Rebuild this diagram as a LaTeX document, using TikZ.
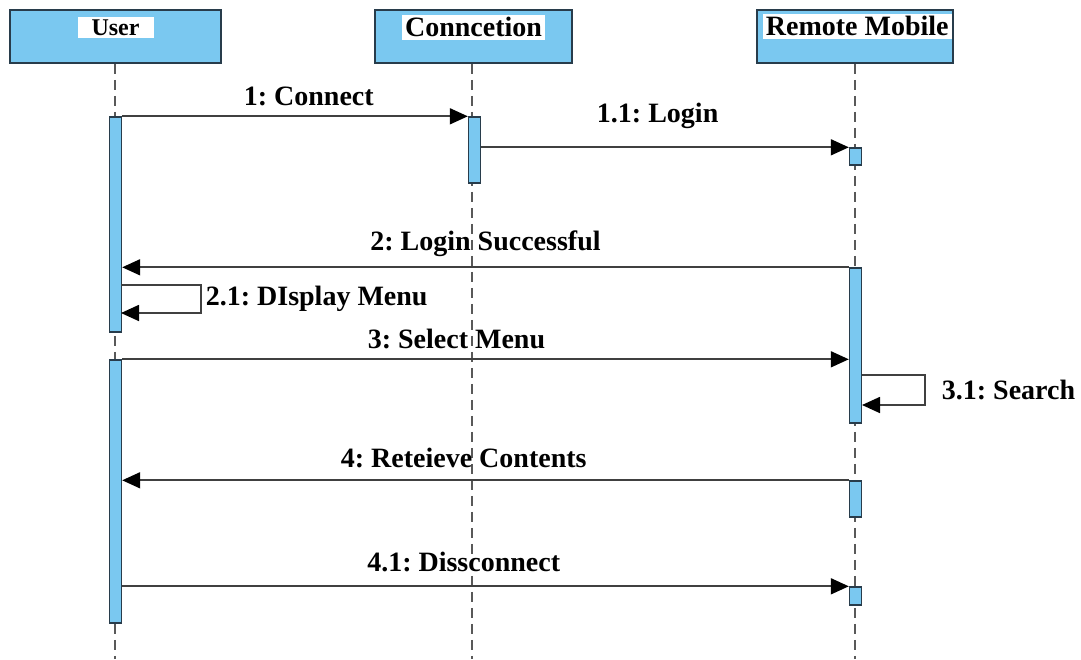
\documentclass[tikz,border=0pt]{standalone}
\usepackage{fontspec}
\setmainfont{Liberation Serif}
\usepackage{tikz}
\usetikzlibrary{arrows.meta}
\usetikzlibrary{positioning}
\definecolor{umlblue}{RGB}{122,200,240}
\definecolor{umledge}{RGB}{40,60,75}
\tikzstyle{head} = [rectangle, draw=umledge, fill=umlblue, line width=0.9pt,
    minimum height=26.5pt, inner sep=0pt]
\tikzstyle{headtext} = [fill=white, inner sep=1.5pt, font=\fontsize{14}{16}\selectfont\bfseries]
\tikzstyle{act} = [rectangle, draw=umledge, fill=umlblue, line width=0.7pt,
    minimum width=6pt, inner sep=0pt]
\tikzstyle{life} = [draw=black!65, dashed, dash pattern=on 5pt off 3pt, line width=0.6pt]
\tikzstyle{msg} = [draw=black!75, line width=0.85pt, -{Triangle[length=9pt,width=8pt,black]}]
\tikzstyle{msglabel} = [font=\fontsize{14}{16}\selectfont\bfseries, inner sep=2pt]
\frenchspacing

\begin{document}
\begin{tikzpicture}[x=0.5pt,y=-0.5pt]
    \useasboundingbox (0,0) rectangle (1081,659);
    % Place heads
    \node [head, minimum width=105.5pt] (user) at (115.5,36.5) {};
    \node [head, minimum width=98.5pt] (conn) at (473.5,36.5) {};
    \node [head, minimum width=98pt] (remote) at (855,36.5) {};
    \node [headtext, font=\fontsize{12}{14}\selectfont\bfseries, below=3.5pt of user.north, minimum width=38pt] {User};
    \node [headtext, below=2.5pt of conn.north] {Conncetion};
    \node [headtext, below=2pt of remote.north, anchor=north east, xshift=48.5pt] {Remote Mobile};
    % Lifelines
    \coordinate (uend) at (115,659);
    \coordinate (cend) at (472,659);
    \coordinate (rend) at (855,659);
    \path [life] (user.south -| uend) -- (uend);
    \path [life] (conn.south -| cend) -- (cend);
    \path [life] (remote.south -| rend) -- (rend);
    % Activations
    \node [act, minimum height=107.5pt] (ua1) at (115.5,224.5) {};
    \node [act, minimum height=131.5pt] (ua2) at (115.5,491.5) {};
    \node [act, minimum height=33pt] (ca1) at (474.5,150) {};
    \node [act, minimum height=8.5pt] (ra1) at (855.5,156.5) {};
    \node [act, minimum height=77.5pt] (ra2) at (855.5,345.5) {};
    \node [act, minimum height=18pt] (ra3) at (855.5,499) {};
    \node [act, minimum height=9pt] (ra4) at (855.5,596) {};
    % Self calls
    \coordinate (dm1) at (121,285);
    \coordinate (dm2) at (121,313);
    \coordinate (se1) at (862,375);
    \coordinate (se2) at (862,405);
    % Messages
    \path [msg] (ua1.north east) -- node [msglabel, above=3pt, pos=0.54] {1: Connect} (ca1.north west);
    \path [msg] (ca1.east |- ra1.north) -- node [msglabel, above=7pt, pos=0.48] {1.1: Login} (ra1.north west);
    \path [msg] (ra2.north west) -- node [msglabel, above=3pt] {2: Login Successful} (ra2.north west -| ua1.east);
    \path [msg] (dm1) -- ++(80,0) |- node [msglabel, right, pos=0.25] {2.1: DIsplay Menu} (dm2);
    \path [msg] (ua2.north east) -- node [msglabel, above=3pt, pos=0.46] {3: Select Menu} (ua2.north east -| ra2.west);
    \path [msg] (se1) -- ++(63,0) |- node [msglabel, right=6pt, pos=0.25] {3.1: Search} (se2);
    \path [msg] (ra3.north west) -- node [msglabel, above=4pt, pos=0.53] {4: Reteieve Contents} (ra3.north west -| ua2.east);
    \path [msg] (ua2.east |- ra4.north) -- node [msglabel, above=5pt, pos=0.47] {4.1: Dissconnect} (ra4.north west);
\end{tikzpicture}
\end{document}
